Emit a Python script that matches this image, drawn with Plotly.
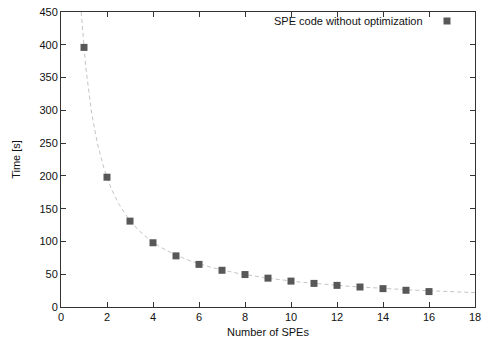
import numpy as np
import plotly.graph_objects as go

spes = [1, 2, 3, 4, 5, 6, 7, 8, 9, 10, 11, 12, 13, 14, 15, 16]
times = [396, 198, 131, 98, 78, 65, 56, 49.5, 44, 39.5, 36, 33, 30.5, 28, 25.5, 23.5]
series_name = "SPE code without optimization"

# fit curve t = a / n from the measured data
x = np.array(spes, dtype=float)
y = np.array(times, dtype=float)
a = float(np.sum(y / x) / np.sum(1.0 / x**2))
xf = np.linspace(a / 450.0, 18, 400)
yf = a / xf

fig = go.Figure()
fig.add_trace(go.Scatter(x=xf, y=yf, mode="lines",
                         line=dict(color="#c4c4c4", width=1, dash="4px,3px"),
                         showlegend=False, hoverinfo="skip"))
fig.add_trace(go.Scatter(x=spes, y=times, mode="markers", name=series_name,
                         marker=dict(symbol="square", size=7, color="#585858"),
                         showlegend=False))

axis_common = dict(showgrid=False, zeroline=False, showline=True, linecolor="#333",
                   linewidth=1, mirror="ticks", ticks="inside", ticklen=5,
                   tickcolor="#333", tickfont=dict(size=11, color="#111"),
                   automargin=False)
fig.update_xaxes(range=[0, 18], dtick=2,
                 title=dict(text="Number of SPEs", font=dict(size=11, color="#111"), standoff=6),
                 **axis_common)
fig.update_yaxes(range=[0, 450], dtick=50,
                 title=dict(text="Time [s]", font=dict(size=11, color="#111"), standoff=16),
                 **axis_common)

PW, PH, L, T = 414, 295, 61, 12
# legend drawn like the original: text, then the marker on the right
fig.add_annotation(x=(425 - L) / PW, y=1 - (21 - T) / PH, xref="x domain", yref="y domain",
                   text=series_name, showarrow=False, xanchor="right", yanchor="middle",
                   font=dict(size=11, color="#111"))
lx, ly = (447 - L) / PW, 1 - (21 - T) / PH
fig.add_shape(type="rect", xref="x domain", yref="y domain",
              x0=lx - 3.5 / PW, x1=lx + 3.5 / PW, y0=ly - 3.5 / PH, y1=ly + 3.5 / PH,
              fillcolor="#585858", line=dict(width=0))

fig.update_layout(
    width=485, height=340,
    margin=dict(l=61, r=10, t=12, b=33),
    paper_bgcolor="white", plot_bgcolor="white",
    font=dict(family="Liberation Sans, Arial, sans-serif", size=11, color="#111"),
    showlegend=False,
)
fig.write_html("out.html", config={"displayModeBar": False},
               post_script="document.body.style.margin='0';document.body.style.overflow='hidden';")
